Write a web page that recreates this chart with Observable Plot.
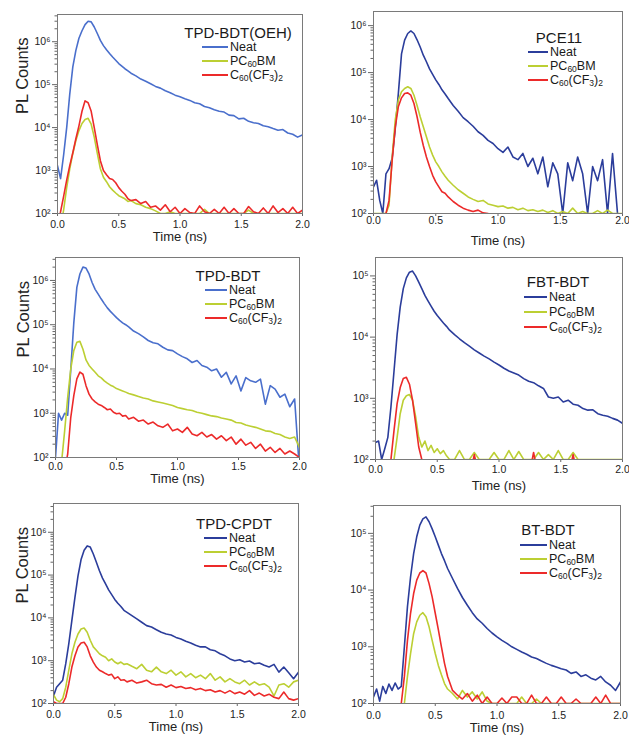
<!DOCTYPE html>
<html><head><meta charset="utf-8">
<script src="https://cdn.jsdelivr.net/npm/d3@7"></script>
<script src="https://cdn.jsdelivr.net/npm/@observablehq/plot@0.6"></script>
<style>
body{margin:0;background:#fff;font-family:"Liberation Sans",Arial,Helvetica,sans-serif;}
#wrap{position:relative;width:629px;height:736px;overflow:hidden;background:#fff;}
.ttl{position:absolute;transform:translate(-50%,-50%);font-size:15px;line-height:1;color:#1a1a1a;white-space:nowrap;}
.row{position:absolute;transform:translateY(-50%);font-size:12.5px;color:#1a1a1a;white-space:nowrap;line-height:1;}
.row sub{font-size:8.5px;vertical-align:baseline;position:relative;top:1.5px;line-height:0;}
.sw{position:absolute;height:2px;transform:translateY(-50%);}
</style></head><body><div id="wrap"></div>
<script>
// shared time grid (ns)
const T = [0,0.025,0.05,0.075,0.1,0.125,0.15,0.175,0.2,0.225,
0.25,0.275,0.3,0.325,0.35,0.375,0.4,0.425,0.45,0.475,
0.5,0.525,0.55,0.575,0.6,0.64,0.68,0.72,0.76,0.8,
0.84,0.88,0.92,0.96,1.0,1.04,1.08,1.12,1.16,1.2,
1.24,1.28,1.32,1.36,1.4,1.44,1.48,1.52,1.56,1.6,
1.64,1.68,1.72,1.76,1.8,1.84,1.88,1.92,1.96,2.0];

const xTicks = [0, 0.5, 1, 1.5, 2];
const decades = [1e2, 1e3, 1e4, 1e5, 1e6];
const decadeLabels = ["10²","10³","10⁴","10⁵","10⁶"];
const minorSteps = [2,3,4,5,6,7,8,9];
const panelTitles = ["TPD-BDT(OEH)","PCE11","TPD-BDT","FBT-BDT","TPD-CPDT","BT-BDT"];
const seriesNames = ["Neat","PC<sub>60</sub>BM","C<sub>60</sub>(CF<sub>3</sub>)<sub>2</sub>"];
const yTop = [4.3e6, 2.0e6, 3.3e6, 2.0e5, 4.7e6, 3.1e5];

// Panel 1: TPD-BDT(OEH)
const p1Neat = [1300,650,2300,1.0e4,6e4,2.6e5,6.3e5,1.2e6,1.8e6,2.5e6,
3.0e6,2.9e6,2.2e6,1.55e6,1.07e6,8.1e5,6.5e5,5.3e5,4.4e5,3.7e5,
3.1e5,2.7e5,2.35e5,2.1e5,1.85e5,1.6e5,1.35e5,1.2e5,1.05e5,9.1e4,
8.3e4,7.2e4,6.5e4,5.7e4,5.2e4,4.7e4,4.3e4,3.8e4,3.6e4,3.1e4,
2.9e4,2.6e4,2.4e4,2.3e4,1.95e4,1.9e4,1.6e4,1.65e4,1.4e4,1.3e4,
1.25e4,1.1e4,1.05e4,9.5e3,8.7e3,9.0e3,7.5e3,7.0e3,6.0e3,6.8e3];
const p1PCBM = [50,50,120,400,1100,2500,5000,8500,1.25e4,1.55e4,
1.65e4,1.2e4,6000,2500,1100,700,550,420,350,300,
260,240,220,190,200,170,160,140,130,115,
100,100,110,100,100,100,100,100,100,125,
100,100,100,100,100,100,100,100,120,100,
100,100,100,100,100,100,100,100,100,100];
const p1CF3 = [50,110,250,600,1300,2600,5500,1.1e4,2.4e4,4.2e4,
3.8e4,2.4e4,1.0e4,4000,1700,1000,800,650,620,520,
400,330,280,220,200,210,170,190,140,150,
120,160,110,140,100,130,105,100,150,110,
100,125,100,140,100,130,100,100,145,110,
100,135,100,150,105,130,100,140,100,120];

// Panel 2: PCE11
const p2Neat = [370,510,190,100,700,900,1500,6600,3.7e4,2.5e5,
4.9e5,6.8e5,7.7e5,6.8e5,5.0e5,3.5e5,2.35e5,1.7e5,1.2e5,9.2e4,
7.0e4,5.6e4,4.3e4,3.5e4,2.8e4,2.0e4,1.5e4,1.1e4,9.0e3,7.2e3,
5.5e3,4.6e3,3.6e3,3.1e3,2.4e3,2.0e3,2.6e3,1.6e3,1.4e3,1.9e3,
1.0e3,1.5e3,700,1.6e3,370,1.2e3,700,100,1.2e3,500,
1.6e3,700,100,1.0e3,500,1.4e3,100,1.9e3,100,50];
const p2PCBM = [100,100,100,100,100,150,1600,1.0e4,2.6e4,3.9e4,
4.6e4,5.0e4,4.6e4,3.3e4,2.0e4,1.15e4,7000,4300,2600,1750,
1260,1000,770,620,510,400,320,270,225,200,
180,190,160,150,140,145,130,135,120,130,
115,120,110,118,105,115,100,110,100,130,
100,110,100,100,115,100,118,100,100,100];
const p2CF3 = [50,50,50,50,100,190,1360,7000,1.9e4,2.9e4,
3.6e4,3.7e4,3.3e4,2.2e4,1.15e4,5400,2800,1600,1000,650,
470,370,290,270,225,180,150,130,118,110,
118,103,100,50,50,50,50,50,50,50,
50,50,50,50,50,50,50,50,50,50,
50,50,50,50,50,50,50,50,50,50];

// Panel 3: TPD-BDT
const p3Neat = [100,1000,700,1000,900,9500,1.1e5,7.0e5,1.4e6,2.0e6,
1.9e6,1.4e6,9.0e5,6.3e5,4.9e5,3.8e5,3.0e5,2.4e5,2.0e5,1.7e5,
1.45e5,1.25e5,1.1e5,1.0e5,8.9e4,7.2e4,6.3e4,5.3e4,4.4e4,3.9e4,
3.7e4,3.1e4,2.7e4,2.6e4,2.2e4,1.9e4,1.7e4,1.4e4,1.55e4,1.2e4,
1.1e4,9.1e3,1.0e4,6.5e3,8.4e3,4.6e3,7.0e3,3.2e3,6.4e3,5.4e3,
5.0e3,5.9e3,1.6e3,4.2e3,3.5e3,2.3e3,2.7e3,1.4e3,2.1e3,50];
const p3PCBM = [50,50,80,400,2300,1.0e4,2.6e4,4.0e4,4.2e4,2.8e4,
1.6e4,1.2e4,1.0e4,8.4e3,7.0e3,6.3e3,5.4e3,4.8e3,4.3e3,4.0e3,
3.6e3,3.4e3,3.2e3,3.0e3,2.8e3,2.6e3,2.4e3,2.2e3,2.1e3,1.9e3,
1.8e3,1.7e3,1.6e3,1.5e3,1.35e3,1.27e3,1.2e3,1.15e3,1.05e3,1.0e3,
930,870,840,780,740,700,620,600,540,510,
480,440,400,390,350,330,290,270,290,170];
const p3CF3 = [50,50,50,50,120,800,2500,6000,8500,7600,
4200,2700,2100,1800,1600,1500,1350,1200,1250,1050,
970,1000,860,890,740,810,660,700,570,630,
520,480,570,400,440,370,480,340,310,370,
290,330,260,310,240,290,200,260,190,220,
160,200,140,170,130,160,120,140,120,100];

// Panel 4: FBT-BDT
const p4Neat = [190,200,100,150,230,720,2800,1.1e4,3.1e4,6.2e4,
9.3e4,1.15e5,1.2e5,1.0e5,7.9e4,6.2e4,4.8e4,3.9e4,3.2e4,2.65e4,
2.25e4,1.95e4,1.7e4,1.5e4,1.3e4,1.1e4,9.4e3,8.1e3,7.1e3,6.2e3,
5.5e3,4.9e3,4.4e3,3.9e3,3.5e3,3.1e3,2.8e3,2.6e3,2.4e3,2.1e3,
1.9e3,1.8e3,1.6e3,1.45e3,1.05e3,1.0e3,1.05e3,870,930,800,
770,680,640,650,560,530,510,470,440,390];
const p4PCBM = [50,50,50,50,50,50,100,230,560,930,
1100,1150,930,500,230,160,200,140,170,130,
150,125,140,115,100,100,140,100,100,130,
100,100,100,130,100,100,140,100,135,100,
100,100,130,100,120,100,140,100,100,130,
100,100,100,100,100,100,100,100,100,100];
const p4CF3 = [50,50,50,50,50,100,300,820,1500,2100,
2200,1700,930,390,160,100,80,50,50,50,
50,50,50,50,50,50,50,50,50,120,
50,50,50,50,50,50,50,50,50,50,
50,130,50,50,50,50,50,50,50,120,
50,50,50,50,50,50,50,50,50,50];

// Panel 5: TPD-CPDT
const p5Neat = [150,240,290,350,850,2500,8700,3.0e4,9.6e4,2.3e5,
3.8e5,4.8e5,4.5e5,3.1e5,2.0e5,1.26e5,8.5e4,6.2e4,4.5e4,3.5e4,
2.7e4,2.2e4,1.85e4,1.5e4,1.35e4,1.13e4,9.5e3,7.9e3,6.6e3,6.1e3,
5.3e3,4.6e3,4.2e3,4.0e3,3.5e3,3.2e3,2.85e3,2.6e3,2.3e3,2.1e3,
2.1e3,1.8e3,1.7e3,1.45e3,1.3e3,1.1e3,1.0e3,1.05e3,930,980,
850,880,780,710,820,540,710,520,380,540];
const p5PCBM = [160,120,110,130,240,600,1450,2700,4200,5500,
5800,4600,3000,2100,1750,1450,1300,1200,1000,1100,
930,850,930,820,850,740,650,820,600,550,
710,550,500,600,460,550,420,500,400,460,
380,500,350,420,320,380,320,290,350,270,
320,270,290,240,150,270,290,240,320,350];
const p5CF3 = [110,100,100,100,140,290,710,1300,2100,2600,
2700,2100,1300,930,710,600,550,500,460,480,
380,420,350,360,320,350,300,320,350,290,
270,280,240,270,235,250,225,235,210,225,
200,210,185,200,175,200,170,185,165,200,
155,175,150,165,140,130,185,130,120,130];

// Panel 6: BT-BDT
const p6Neat = [130,180,110,200,150,220,170,230,180,200,
1000,5100,1.7e4,4.4e4,8.7e4,1.4e5,1.8e5,1.95e5,1.6e5,1.2e5,
8.7e4,6.2e4,4.4e4,3.3e4,2.4e4,1.6e4,1.07e4,7.4e3,5.4e3,4.0e3,
3.1e3,2.6e3,2.1e3,1.75e3,1.5e3,1.3e3,1.15e3,1.0e3,900,810,
740,660,620,560,510,470,440,410,390,340,
360,300,320,280,260,300,240,210,170,240];
const p6PCBM = [50,50,50,50,50,50,50,50,50,50,
100,300,760,1700,2750,3600,4000,3400,2250,1300,
760,470,320,225,180,150,120,170,130,160,
120,160,110,100,100,100,100,100,100,130,
100,100,120,100,100,100,100,100,100,100,
100,100,100,100,100,100,100,100,100,100];
const p6CF3 = [50,50,50,50,50,50,50,50,50,100,
300,1300,3900,8700,1.5e4,2.0e4,2.2e4,2.0e4,1.3e4,7600,
3900,2000,1000,510,300,170,140,120,150,110,
140,100,130,100,100,125,100,130,130,100,
100,140,100,100,130,100,100,130,100,100,
120,100,100,100,130,100,140,100,100,100];

const panelSeries = [
  [p1Neat,p1PCBM,p1CF3],[p2Neat,p2PCBM,p2CF3],[p3Neat,p3PCBM,p3CF3],
  [p4Neat,p4PCBM,p4CF3],[p5Neat,p5PCBM,p5CF3],[p6Neat,p6PCBM,p6CF3]
];

// layout (page pixels) and styling
const BLUE_L = "#4a6fcc", BLUE_D = "#2b3d9b", YEL = "#bccf33", RED = "#ec2a2a";
const layout = [
  {l:57, r:302, t:14, b:213, blue:BLUE_L, yLab:-35, tl:14, xl:27, title:[238,32], rows:[47,61,75], sw:202, swW:26},
  {l:373, r:622, t:11, b:213, blue:BLUE_D, yLab:null, tl:9, xl:31, title:[559,37], rows:[52,66,80], sw:528, swW:20},
  {l:55, r:299, t:257, b:457, blue:BLUE_L, yLab:-32, tl:12, xl:25, title:[228,275], rows:[290,304,318], sw:205, swW:22},
  {l:375, r:622, t:257, b:459, blue:BLUE_D, yLab:null, tl:13, xl:30, title:[558,281], rows:[297,312,327], sw:524, swW:23},
  {l:53, r:298, t:503, b:703, blue:BLUE_D, yLab:-31, tl:14, xl:27, title:[234,523], rows:[538,552,566], sw:204, swW:23},
  {l:373, r:620, t:505, b:703, blue:BLUE_D, yLab:null, tl:15, xl:28, title:[548,529], rows:[545,559,573], sw:520, swW:27}
];

const wrap = document.getElementById("wrap");
const fmtX = d3.format(".1f");

layout.forEach((L, i) => {
  const mL = 50, mR = 8, mT = 6, mB = 42;
  const W = L.r - L.l + mL + mR, H = L.b - L.t + mT + mB;
  const top = yTop[i];
  const minor = decades.flatMap(d => minorSteps.map(m => m * d)).filter(v => v < top);
  const major = decades.filter(v => v <= top);
  const colors = [L.blue, YEL, RED];
  const marks = [
    Plot.axisY(minor, {tickSize: 2.5, tickFormat: () => "", stroke: "#666", label: null}),
    Plot.axisY(major, {tickSize: 5, tickPadding: 2, tickFormat: v => decadeLabels[decades.indexOf(v)], stroke: "#666", fill: "#222", fontSize: 10.5, label: null}),
    Plot.axisX(xTicks, {tickSize: 3, tickPadding: Math.max(0, L.tl - 10), tickFormat: fmtX, stroke: "#666", fill: "#222", fontSize: 10.5, label: null}),
    ...panelSeries[i].map((vals, k) => Plot.line(vals, {x: (d, j) => T[j], y: d => d, stroke: colors[k], strokeWidth: 1.6, clip: true})),
    Plot.frame({stroke: "#7a7a7a", strokeWidth: 1}),
    Plot.text(["Time (ns)"], {text: d => d, frameAnchor: "bottom", dy: L.xl, fontSize: 13, fill: "#222"})
  ];
  if (L.yLab !== null) {
    marks.push(Plot.text(["PL Counts"], {text: d => d, frameAnchor: "left", dx: L.yLab, rotate: -90, fontSize: 16.5, fill: "#222"}));
  }
  const svg = Plot.plot({
    width: W, height: H,
    marginLeft: mL, marginRight: mR, marginTop: mT, marginBottom: mB,
    x: {type: "linear", domain: [0, 2]},
    y: {type: "log", domain: [100, top]},
    style: {background: "transparent", overflow: "visible", fontFamily: "Liberation Sans, Arial, Helvetica, sans-serif"},
    marks
  });
  svg.style.position = "absolute";
  svg.style.left = (L.l - mL) + "px";
  svg.style.top = (L.t - mT) + "px";
  svg.style.maxWidth = "none";
  wrap.appendChild(svg);

  // legend with title
  const t = document.createElement("div");
  t.className = "ttl";
  t.style.left = L.title[0] + "px";
  t.style.top = L.title[1] + "px";
  t.textContent = panelTitles[i];
  wrap.appendChild(t);
  seriesNames.forEach((name, k) => {
    const s = document.createElement("div");
    s.className = "sw";
    s.style.left = L.sw + "px";
    s.style.top = L.rows[k] + "px";
    s.style.width = L.swW + "px";
    s.style.background = colors[k];
    wrap.appendChild(s);
    const r = document.createElement("div");
    r.className = "row";
    r.style.left = (L.sw + L.swW + 2) + "px";
    r.style.top = L.rows[k] + "px";
    r.innerHTML = name;
    wrap.appendChild(r);
  });
});
</script></body></html>
